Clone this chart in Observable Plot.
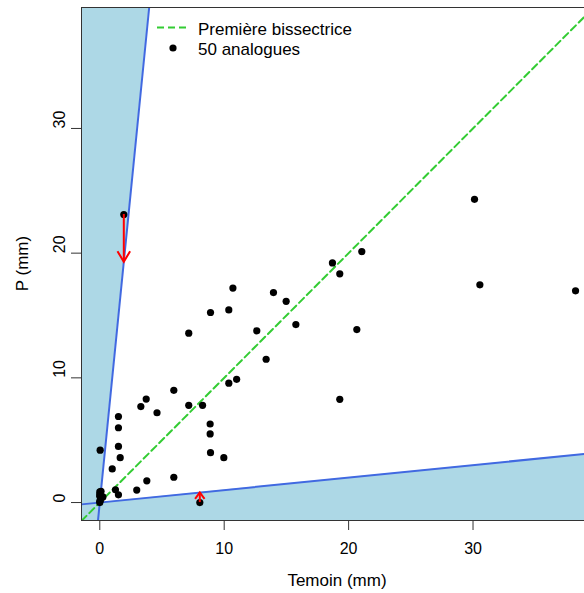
<!DOCTYPE html>
<html><head><meta charset="utf-8">
<script src="https://cdn.jsdelivr.net/npm/d3@7"></script>
<script src="https://cdn.jsdelivr.net/npm/@observablehq/plot@0.6"></script>
<style>
body{margin:0;background:#fff}
svg{font-family:"Liberation Sans",Arial,Helvetica,sans-serif}
</style>
</head><body><div id="chart"></div>
<script>
// 50 analogues : Temoin (mm) vs P (mm)
const temoin = [1.93, 0.03, 1.0, 1.5, 1.5, 1.5, 1.64, 1.26, 1.5, 2.97, 3.78, 5.95, 3.3, 4.6, 3.73, 5.95, 7.15, 8.26, 8.87, 8.87, 8.9, 9.97, 10.37, 11.0, 8.04, 10.7, 13.96, 14.98, 8.9, 10.37, 7.15, 12.62, 15.76, 13.37, 21.06, 18.7, 19.29, 20.66, 19.29, 30.12, 30.55, 38.24, 0, 0, 0.05, 0.25, 0, 0, 0.1, 0];
const pVals  = [23.1, 4.2, 2.7, 6.9, 6.0, 4.5, 3.6, 1.02, 0.62, 1.0, 1.74, 2.03, 7.7, 7.2, 8.3, 9.0, 7.8, 7.8, 6.3, 5.5, 4.0, 3.6, 9.57, 9.88, 0, 17.2, 16.84, 16.14, 15.24, 15.45, 13.58, 13.77, 14.27, 11.49, 20.13, 19.22, 18.34, 13.87, 8.28, 24.32, 17.46, 16.98, 0.85, 0.5, 0.2, 0.45, 0, 0.65, 0.9, 0.1];
// corrected analogues (arrows toward the boundary lines)
const arrowX    = [1.93, 8.04];
const arrowFrom = [23.1, 0];
const slopes    = [10, 0.1];   // boundary lines y = 10x and y = 0.1x
const xTicks = [0, 10, 20, 30];
const yTicks = [0, 10, 20, 30];
const xDomain = [-1.47, 38.96];
const yDomain = [-1.44, 39.7];
const labels = {x: "Temoin (mm)", y: "P (mm)", line: "Première bissectrice", pts: "50 analogues"};

const points = temoin.map((t, i) => ({t, p: pVals[i]}));
const arrowsDown = [{x: arrowX[0], y1: arrowFrom[0], y2: arrowX[0] * slopes[0]}];
const arrowsUp = [{x: arrowX[1], y1: arrowFrom[1], y2: arrowX[1] * slopes[1]}];

const chevronBig = {draw(ctx, size) { const s = Math.sqrt(size / Math.PI); ctx.moveTo(-0.59 * s, s); ctx.lineTo(0, 0); ctx.lineTo(0.59 * s, s); }};
const chevronSmall = {draw(ctx, size) { const s = Math.sqrt(size / Math.PI); ctx.moveTo(-0.75 * s, s); ctx.lineTo(0, 0); ctx.lineTo(0.75 * s, s); }};

const green = "#33CC33", blue = "#4169E1", shade = "#ADD8E6", axisCol = "#333";

const svg = Plot.plot({
  width: 584, height: 593,
  marginLeft: 81, marginRight: 0, marginTop: 7, marginBottom: 73,
  x: {domain: xDomain},
  y: {domain: yDomain},
  style: {fontFamily: '"Liberation Sans",Arial,sans-serif', fontSize: "16px", color: "#000", background: "#fff", overflow: "visible"},
  marks: [
    Plot.areaX(yDomain, {y: d => d, x1: xDomain[0], x2: d => d / slopes[0], fill: shade, clip: true}),
    Plot.areaY(xDomain, {x: d => d, y1: yDomain[0], y2: d => d * slopes[1], fill: shade, clip: true}),
    Plot.line(xDomain, {x: d => d, y: d => d, stroke: green, strokeWidth: 2, strokeDasharray: "7,4", clip: true}),
    Plot.line(yDomain, {x: d => d / slopes[0], y: d => d, stroke: blue, strokeWidth: 2, clip: true}),
    Plot.line(xDomain, {x: d => d, y: d => d * slopes[1], stroke: blue, strokeWidth: 2, clip: true}),
    Plot.dot(points, {x: "t", y: "p", r: 3.6, fill: "#000", stroke: "none"}),
    Plot.ruleX(arrowsDown, {x: "x", y1: "y1", y2: "y2", stroke: "red", strokeWidth: 2}),
    Plot.ruleX(arrowsUp, {x: "x", y1: "y1", y2: "y2", stroke: "red", strokeWidth: 2}),
    Plot.dot(arrowsDown, {x: "x", y: "y2", symbol: chevronBig, r: 10.7, rotate: 180, stroke: "red", fill: "none", strokeWidth: 2}),
    Plot.dot(arrowsUp, {x: "x", y: "y2", symbol: chevronSmall, r: 6.3, stroke: "red", fill: "none", strokeWidth: 2}),
    Plot.ruleX([xDomain[0]], {stroke: axisCol, strokeWidth: 1}),
    Plot.ruleY(yDomain, {stroke: axisCol, strokeWidth: 1}),
    Plot.axisX(xTicks, {tickSize: 10, tickPadding: 12, fontSize: 16, label: null, stroke: axisCol}),
    Plot.axisY(yTicks, {tickSize: 10, tickFormat: () => "", label: null, stroke: axisCol}),
    Plot.text(yTicks, {y: d => d, frameAnchor: "left", dx: -22, rotate: -90, text: d => String(d), fontSize: 16})
  ]
});

const s = d3.select(svg);
s.append("text").attr("x", 337).attr("y", 586).attr("text-anchor", "middle").attr("font-size", 17).attr("fill", "#000").text(labels.x);
s.append("text").attr("transform", "translate(28,263.5) rotate(-90)").attr("text-anchor", "middle").attr("font-size", 17).attr("fill", "#000").text(labels.y);
const lg = s.append("g").attr("font-size", 17).attr("fill", "#000").attr("text-anchor", "start");
lg.append("line").attr("x1", 157).attr("x2", 187).attr("y1", 27.5).attr("y2", 27.5).attr("stroke", green).attr("stroke-width", 2).attr("stroke-dasharray", "7,4");
lg.append("circle").attr("cx", 173).attr("cy", 48).attr("r", 3.6).attr("fill", "#000");
lg.append("text").attr("x", 198).attr("y", 34.5).attr("text-anchor", "start").text(labels.line);
lg.append("text").attr("x", 198).attr("y", 54.5).attr("text-anchor", "start").text(labels.pts);

document.getElementById("chart").appendChild(svg);
</script>
</body></html>
